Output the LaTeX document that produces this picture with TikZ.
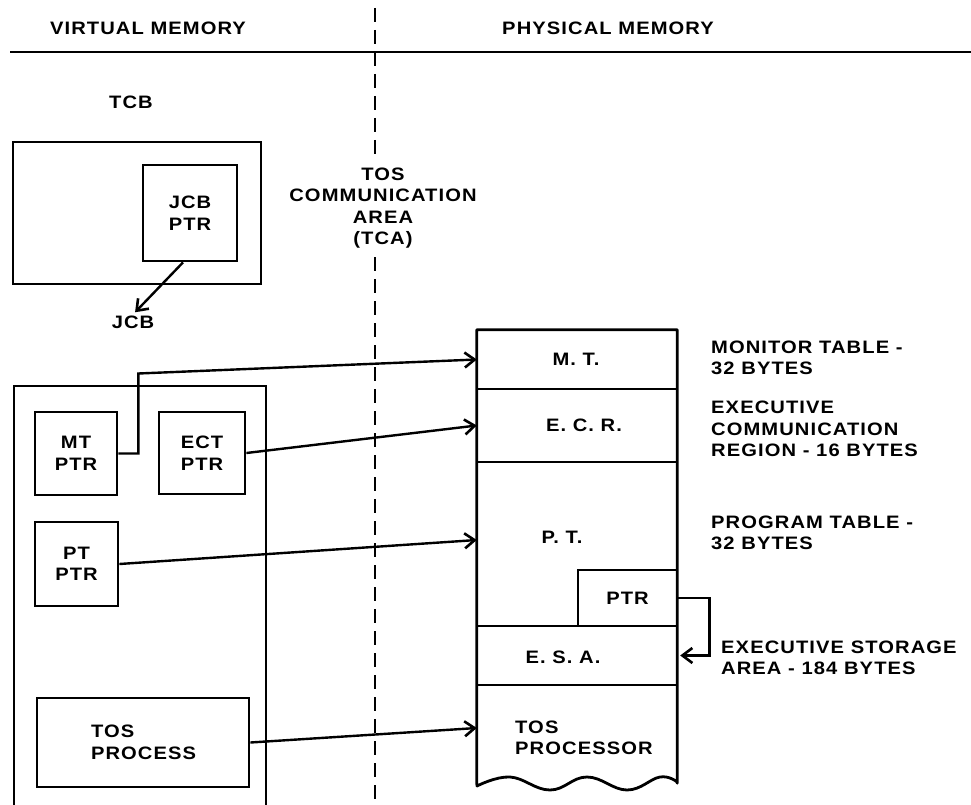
\documentclass[tikz,border=0pt]{standalone}
\usepackage{fontspec}
\setmainfont[FakeStretch=1.12,LetterSpace=6]{Liberation Sans}
\usetikzlibrary{arrows.meta,calc}
\newcommand\lblfont{\bfseries\fontsize{18}{21.5}\selectfont}
\tikzset{
  box/.style={draw, line width=2.8pt, inner sep=0pt, font=\lblfont, align=center},
  sec/.style={inner sep=0pt, minimum width=200pt},
  lbl/.style={font=\lblfont, align=center, inner sep=1pt},
  rlbl/.style={font=\lblfont, align=left, inner sep=0pt, anchor=west},
  conn/.style={line width=2.4pt, -{Straight Barb[length=10pt,width=15pt,line width=2.6pt]}},
  thin/.style={line width=2.4pt},
  dashline/.style={line width=2.8pt, dash pattern=on 14pt off 8pt}
}
\begin{document}
\begin{tikzpicture}[x=1pt,y=-1pt]
\useasboundingbox (0,0) rectangle (971,805);
% header
\node[lbl] (vm) at (148,28) {VIRTUAL MEMORY};
\node[lbl] (pm) at (608,28) {PHYSICAL MEMORY};
\coordinate (hl) at (10,52);
\coordinate (hr) at (971,52);
\draw[thin] (hl) -- (hr);
% TCA dashed divider
\node[lbl] (tca) at (383,208) {TOS\\COMMUNICATION\\AREA\\(TCA)};
\coordinate (d1) at (375,8);
\coordinate (d2) at (375,160);
\coordinate (d3) at (375,257);
\coordinate (d4) at (375,805);
\draw[dashline] (d1) -- (d2);
\draw[dashline] (d3) -- (d4);
% TCB
\node[lbl] (tcb) at (131,102) {TCB};
\node[box, minimum width=248pt, minimum height=142pt] (tcbbox) at (137,213) {};
\node[box, minimum width=94pt, minimum height=96pt] (jcbptr) at (190,213) {JCB\\PTR};
\node[lbl] (jcb) at (133,322) {JCB};
\draw[conn, shorten >=3pt] ([xshift=-7pt]jcbptr.south) -- (jcb.north);
% lower virtual memory box
\coordinate (vb1) at (14,805);
\coordinate (vb2) at (14,386);
\coordinate (vb3) at (266,386);
\coordinate (vb4) at (266,805);
\draw[line width=2.8pt] (vb1) -- (vb2) -- (vb3) -- (vb4);
\node[box, minimum width=82pt, minimum height=83pt] (mtptr) at (76,453.5) {MT\\PTR};
\node[box, minimum width=86pt, minimum height=82pt] (ectptr) at (202,453) {ECT\\PTR};
\node[box, minimum width=83pt, minimum height=84pt] (ptptr) at (76.5,564) {PT\\PTR};
\node[box, minimum width=212pt, minimum height=89pt, align=left, text width=104pt] (tosproc) at (143,742.5) {TOS\\PROCESS};
% physical memory sections
\node[sec, minimum height=59pt] (mt) at (577,359.5) {};
\node[sec, minimum height=73pt] (ecr) at (577,425.5) {};
\node[sec, minimum height=164pt] (pt) at (577,544) {};
\node[sec, minimum height=59pt] (esa) at (577,655.5) {};
\node[sec, minimum height=98pt] (tos) at (577,734) {};
\draw[line width=2.8pt, line join=round] (tos.south west) -- (mt.north west) -- (mt.north east) -- (tos.south east)
  -- plot[smooth, tension=0.7] coordinates {(677,782) (660,777) (627,790) (587,777) (550,790) (510,777) (477,786)} -- cycle;
\draw[thin] (mt.south west) -- (mt.south east);
\draw[thin] (ecr.south west) -- (ecr.south east);
\draw[thin] (pt.south west) -- (pt.south east);
\draw[thin] (esa.south west) -- (esa.south east);
\node[box, minimum width=99pt, minimum height=56pt] (ptrbox) at (627.5,598) {PTR};
\node[lbl] (mtl) at (576,359) {M. T.};
\node[lbl] (ecrl) at (584,425) {E. C. R.};
\node[lbl] (ptl) at (562,537) {P. T.};
\node[lbl] (esal) at (563,657) {E. S. A.};
\node[rlbl] (tosl) at (515,738) {TOS\\PROCESSOR};
% right labels
\node[rlbl] (mtd) at (711,358) {MONITOR TABLE -\\32 BYTES};
\node[rlbl] (ecrd) at (711,429) {EXECUTIVE\\COMMUNICATION\\REGION - 16 BYTES};
\node[rlbl] (ptd) at (711,533) {PROGRAM TABLE -\\32 BYTES};
\node[rlbl] (esad) at (721,658) {EXECUTIVE STORAGE\\AREA - 184 BYTES};
% connectors
\draw[conn] (mtptr.east) -- ++(20,0) -- ++(0,-80) -- (mt.west);
\draw[conn] (ectptr.east) -- (ecr.west);
\draw[conn] (ptptr.east) -- ([yshift=4pt]pt.west);
\draw[conn] (tosproc.east) -- ([yshift=6pt]tos.west);
\draw[conn, shorten >=3pt] (ptrbox.east) -- ++(31,0) |- (esa.east);
\end{tikzpicture}
\end{document}
